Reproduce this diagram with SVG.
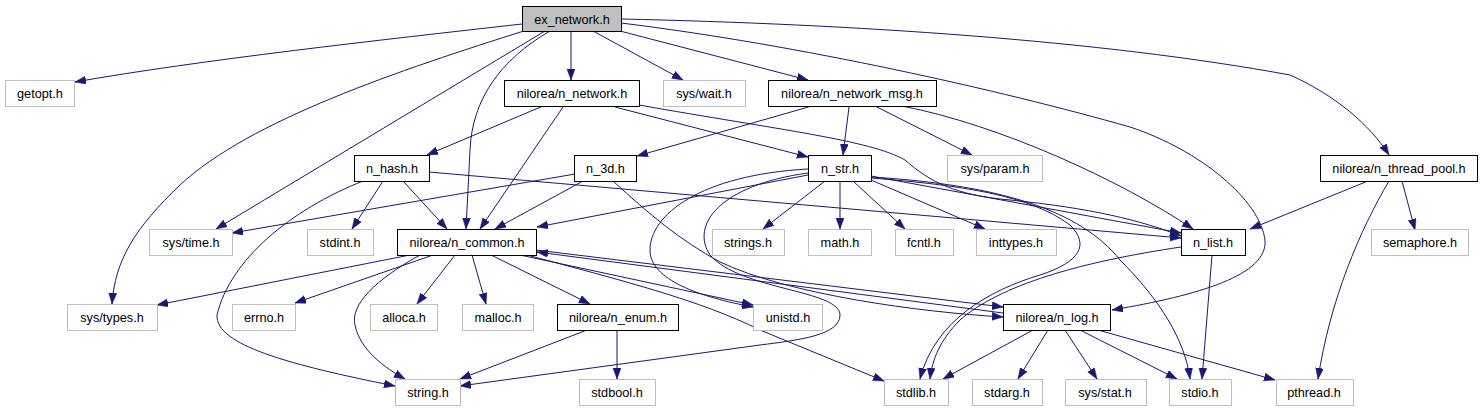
<svg xmlns="http://www.w3.org/2000/svg" width="1482" height="411" viewBox="0 0 1482 411">
<defs>
<marker id="ah" markerUnits="userSpaceOnUse" markerWidth="12" markerHeight="9" refX="11" refY="4" orient="auto">
<path d="M0,0 L11,4 L0,8 z" fill="#191970" stroke="#191970" stroke-width="0.5"/>
</marker>
<style>
.e path{fill:none;stroke:#191970;stroke-width:1;marker-end:url(#ah)}
.n rect{fill:#fff;stroke:#000;stroke-width:1}
.u rect{fill:#fff;stroke:#bfbfbf;stroke-width:1}
.r rect{fill:#bfbfbf;stroke:#000;stroke-width:1}
text{font-family:"Liberation Sans",Arial,Helvetica,sans-serif;font-size:12.7px;text-anchor:middle;fill:#000}
</style>
</defs>
<rect width="1482" height="411" fill="#fff"/>
<g id="edges" class="e">
<path d="M522,24 C380,40 200,60 75,82"/>
<path d="M527,30 C400,70 250,120 180,185 C135,228 115,260 112,304"/>
<path d="M545,31 L216,229"/>
<path d="M550,31 C500,60 472,100 470,150 L466,229"/>
<path d="M571,31 L571,80"/>
<path d="M593,31 L683,80"/>
<path d="M620,31 L808,80"/>
<path d="M621,19 C850,24 1100,40 1290,75 C1335,95 1370,125 1389,155"/>
<path d="M621,23 C800,45 1000,90 1130,127 C1200,150 1260,200 1265,240 C1268,275 1200,295 1112,310"/>
<path d="M543,106 L427,155"/>
<path d="M563,107 L480,229"/>
<path d="M615,107 L808,157"/>
<path d="M639,105 C780,130 870,140 905,160 C930,182 955,195 1010,200 C1090,208 1140,220 1181,236"/>
<path d="M812,106 L637,156"/>
<path d="M849,107 L843,155"/>
<path d="M875,106 L972,155"/>
<path d="M902,106 C1000,125 1120,180 1193,229"/>
<path d="M363,181 C290,210 230,260 217,315 C215,345 290,365 395,386"/>
<path d="M383,181 L352,229"/>
<path d="M403,181 L447,229"/>
<path d="M429,172 L1181,238"/>
<path d="M575,174 L232,233"/>
<path d="M583,181 L495,229"/>
<path d="M613,181 C650,215 680,240 720,262 C790,295 920,312 1003,317"/>
<path d="M808,175 L537,227"/>
<path d="M825,181 L763,229"/>
<path d="M840,181 L840,229"/>
<path d="M853,181 L905,229"/>
<path d="M871,180 L985,229"/>
<path d="M808,169 C700,175 650,215 650,250 C650,280 700,297 753,307"/>
<path d="M808,173 C720,185 690,225 710,255 C740,290 840,290 840,315 C840,335 800,340 760,345 L460,386"/>
<path d="M871,176 L1181,233"/>
<path d="M871,177 C1000,185 1080,210 1120,260 C1160,300 1185,340 1190,379"/>
<path d="M871,178 C960,185 1030,195 1070,225 C1090,245 1080,262 1040,275 C990,290 935,320 920,379"/>
<path d="M410,255 L157,305"/>
<path d="M433,255 L295,303"/>
<path d="M455,255 L417,304"/>
<path d="M472,255 L486,304"/>
<path d="M491,255 L590,304"/>
<path d="M520,255 L753,305"/>
<path d="M527,255 C620,280 700,300 760,330 L884,381"/>
<path d="M536,250 L1003,307"/>
<path d="M420,255 C375,280 350,305 355,325 C360,350 385,368 405,379"/>
<path d="M1003,313 L537,252"/>
<path d="M1033,330 L943,379"/>
<path d="M1048,330 L1018,379"/>
<path d="M1065,330 L1097,379"/>
<path d="M1080,330 L1177,379"/>
<path d="M1098,330 L1275,380"/>
<path d="M1181,247 C1080,262 1000,285 960,320 C940,340 932,360 930,379"/>
<path d="M1212,255 L1202,379"/>
<path d="M1368,181 L1250,229"/>
<path d="M1402,181 L1415,230"/>
<path d="M1389,181 C1360,230 1330,300 1318,379"/>
<path d="M617,330 L617,379"/>
<path d="M587,330 L460,379"/>
</g>
<g id="ex_network" class="r"><rect x="522.5" y="6.5" width="99" height="25"/><text x="572" y="23.5">ex_network.h</text></g>
<g id="getopt" class="u"><rect x="5.5" y="80.5" width="69" height="26"/><text x="40" y="98">getopt.h</text></g>
<g id="n_network" class="n"><rect x="504.5" y="80.5" width="135" height="26"/><text x="572" y="98">nilorea/n_network.h</text></g>
<g id="sys_wait" class="u"><rect x="663.5" y="80.5" width="82" height="26"/><text x="704" y="98">sys/wait.h</text></g>
<g id="n_network_msg" class="n"><rect x="768.5" y="80.5" width="168" height="26"/><text x="852" y="98">nilorea/n_network_msg.h</text></g>
<g id="n_thread_pool" class="n"><rect x="1320.5" y="155.5" width="157" height="26"/><text x="1399" y="173">nilorea/n_thread_pool.h</text></g>
<g id="sys_param" class="u"><rect x="947.5" y="155.5" width="95" height="26"/><text x="995" y="173">sys/param.h</text></g>
<g id="n_str" class="n"><rect x="808.5" y="155.5" width="63" height="26"/><text x="840" y="173">n_str.h</text></g>
<g id="n_3d" class="n"><rect x="574.5" y="155.5" width="62" height="26"/><text x="605.5" y="173">n_3d.h</text></g>
<g id="n_hash" class="n"><rect x="354.5" y="155.5" width="75" height="26"/><text x="392" y="173">n_hash.h</text></g>
<g id="sys_time" class="u"><rect x="149.5" y="229.5" width="83" height="26"/><text x="191" y="247">sys/time.h</text></g>
<g id="stdint" class="u"><rect x="307.5" y="229.5" width="66" height="26"/><text x="340" y="247">stdint.h</text></g>
<g id="n_common" class="n"><rect x="397.5" y="229.5" width="139" height="26"/><text x="467" y="247">nilorea/n_common.h</text></g>
<g id="strings" class="u"><rect x="712.5" y="229.5" width="72" height="26"/><text x="748" y="247">strings.h</text></g>
<g id="math" class="u"><rect x="808.5" y="229.5" width="63" height="26"/><text x="840" y="247">math.h</text></g>
<g id="fcntl" class="u"><rect x="895.5" y="229.5" width="58" height="26"/><text x="924" y="247">fcntl.h</text></g>
<g id="inttypes" class="u"><rect x="976.5" y="229.5" width="80" height="26"/><text x="1016" y="247">inttypes.h</text></g>
<g id="n_list" class="n"><rect x="1181.5" y="229.5" width="64" height="26"/><text x="1213" y="247">n_list.h</text></g>
<g id="semaphore" class="u"><rect x="1371.5" y="229.5" width="97" height="26"/><text x="1420" y="247">semaphore.h</text></g>
<g id="n_log" class="n"><rect x="1003.5" y="304.5" width="107" height="26"/><text x="1057" y="322">nilorea/n_log.h</text></g>
<g id="sys_types" class="u"><rect x="67.5" y="304.5" width="90" height="26"/><text x="112" y="322">sys/types.h</text></g>
<g id="errno" class="u"><rect x="232.5" y="304.5" width="63" height="26"/><text x="264" y="322">errno.h</text></g>
<g id="alloca" class="u"><rect x="370.5" y="304.5" width="67" height="26"/><text x="404" y="322">alloca.h</text></g>
<g id="malloc" class="u"><rect x="462.5" y="304.5" width="71" height="26"/><text x="498" y="322">malloc.h</text></g>
<g id="n_enum" class="n"><rect x="557.5" y="304.5" width="121" height="26"/><text x="618" y="322">nilorea/n_enum.h</text></g>
<g id="unistd" class="u"><rect x="753.5" y="304.5" width="69" height="26"/><text x="788" y="322">unistd.h</text></g>
<g id="string" class="u"><rect x="395.5" y="379.5" width="65" height="26"/><text x="428" y="397">string.h</text></g>
<g id="stdbool" class="u"><rect x="579.5" y="379.5" width="76" height="26"/><text x="617" y="397">stdbool.h</text></g>
<g id="stdlib" class="u"><rect x="884.5" y="379.5" width="64" height="26"/><text x="916" y="397">stdlib.h</text></g>
<g id="stdarg" class="u"><rect x="972.5" y="379.5" width="70" height="26"/><text x="1007" y="397">stdarg.h</text></g>
<g id="sys_stat" class="u"><rect x="1065.5" y="379.5" width="81" height="26"/><text x="1105" y="397">sys/stat.h</text></g>
<g id="stdio" class="u"><rect x="1169.5" y="379.5" width="62" height="26"/><text x="1200" y="397">stdio.h</text></g>
<g id="pthread" class="u"><rect x="1276.5" y="379.5" width="77" height="26"/><text x="1314" y="397">pthread.h</text></g>
</svg>
